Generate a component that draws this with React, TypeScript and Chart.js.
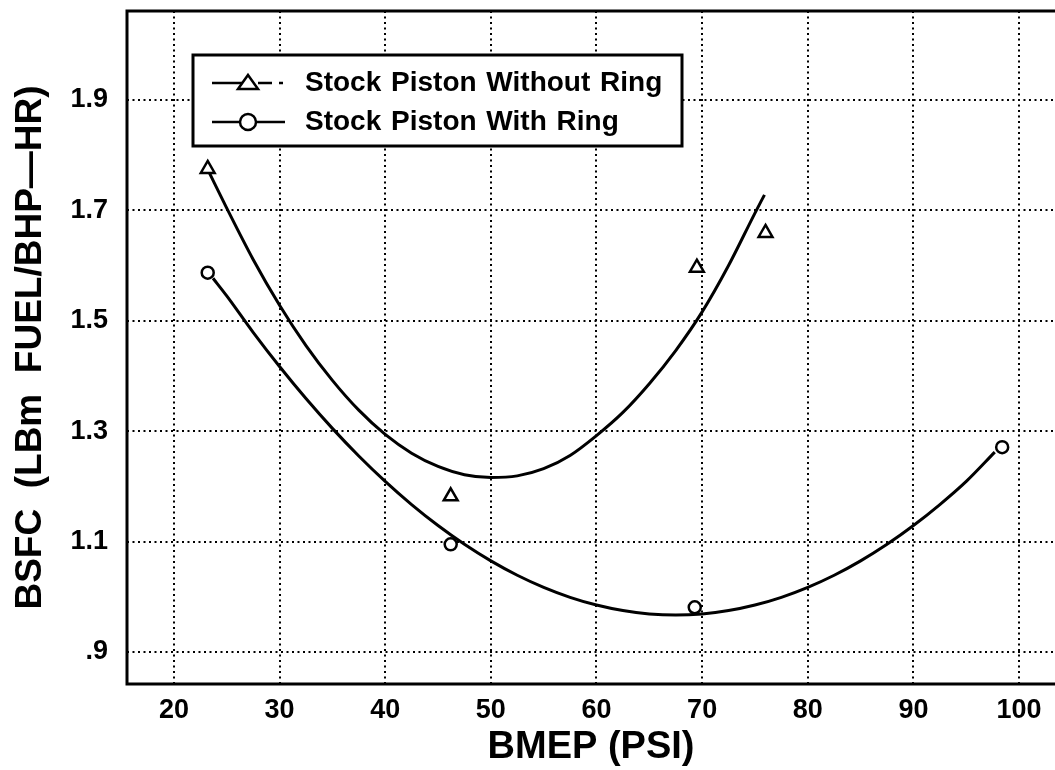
import { useEffect, useRef } from "react";
import { Chart, registerables } from "chart.js";

Chart.register(...registerables);

// Axis ticks
const xTicks = [20, 30, 40, 50, 60, 70, 80, 90, 100];
const yTicks = [0.9, 1.1, 1.3, 1.5, 1.7, 1.9];

// Series names
const seriesNames = ["Stock Piston Without Ring", "Stock Piston With Ring"];

// Measured points
const withoutRingBmep = [23.2, 46.2, 69.5, 76.0];
const withoutRingBsfc = [1.775, 1.182, 1.596, 1.659];
const withRingBmep = [23.2, 46.2, 69.3, 98.4];
const withRingBsfc = [1.587, 1.095, 0.981, 1.271];

// Fitted curves
const withoutRingFitBmep = [
  23.3, 25, 27.5, 30, 32.5, 35, 37.5, 40, 42.5, 45, 47.5, 50, 52.5, 55, 57.5, 60, 62.5, 65, 67.5, 70, 72.5, 75, 75.9,
];
const withoutRingFitBsfc = [
  1.77, 1.704, 1.611, 1.528, 1.455, 1.392, 1.338, 1.294, 1.26, 1.236, 1.221, 1.216, 1.219, 1.232, 1.256, 1.292,
  1.334, 1.386, 1.446, 1.516, 1.6, 1.695, 1.728,
];
const withRingFitBmep = [
  23.7, 25, 27.5, 30, 32.5, 35, 37.5, 40, 42.5, 45, 47.5, 50, 52.5, 55, 57.5, 60, 62.5, 65, 67.5, 70, 72.5, 75, 77.5,
  80, 82.5, 85, 87.5, 90, 92.5, 95, 97.7,
];
const withRingFitBsfc = [
  1.577, 1.545, 1.479, 1.417, 1.359, 1.305, 1.255, 1.209, 1.167, 1.129, 1.095, 1.065, 1.039, 1.017, 0.999, 0.985,
  0.975, 0.969, 0.967, 0.969, 0.975, 0.985, 0.999, 1.017, 1.039, 1.065, 1.095, 1.129, 1.167, 1.209, 1.262,
];

const FONT = '"Liberation Sans", Arial, Helvetica, sans-serif';

const toXY = (xs: number[], ys: number[]) => xs.map((x, i) => ({ x, y: ys[i] }));

export default function App() {
  const ref = useRef<HTMLCanvasElement>(null);

  useEffect(() => {
    const canvas = ref.current!;

    const framePlugin = {
      id: "frameAndLegend",
      afterDraw(chart: any) {
        const ctx = chart.ctx as CanvasRenderingContext2D;
        const ca = chart.chartArea;
        ctx.save();
        // frame (left, top, bottom)
        ctx.strokeStyle = "#000";
        ctx.lineWidth = 3;
        ctx.setLineDash([]);
        ctx.beginPath();
        ctx.moveTo(chart.width + 5, ca.top);
        ctx.lineTo(ca.left, ca.top);
        ctx.lineTo(ca.left, ca.bottom);
        ctx.lineTo(chart.width + 5, ca.bottom);
        ctx.stroke();

        // legend box
        const bx = ca.left + 66;
        const by = ca.top + 44;
        const bw = 489;
        const bh = 91;
        ctx.fillStyle = "#fff";
        ctx.fillRect(bx, by, bw, bh);
        ctx.lineWidth = 3;
        ctx.strokeRect(bx, by, bw, bh);

        const rows = [by + 28, by + 67];
        const lx0 = bx + 19;
        const lx1 = bx + 92;
        const mx = bx + 55;

        // row 1: triangle, solid then dash-dot
        ctx.lineWidth = 2.5;
        ctx.beginPath();
        ctx.moveTo(lx0, rows[0]);
        ctx.lineTo(mx, rows[0]);
        ctx.moveTo(mx + 10, rows[0]);
        ctx.lineTo(mx + 24, rows[0]);
        ctx.moveTo(mx + 31, rows[0]);
        ctx.lineTo(mx + 35, rows[0]);
        ctx.stroke();
        ctx.beginPath();
        ctx.moveTo(mx, rows[0] - 8);
        ctx.lineTo(mx + 10, rows[0] + 6);
        ctx.lineTo(mx - 10, rows[0] + 6);
        ctx.closePath();
        ctx.fillStyle = "#fff";
        ctx.fill();
        ctx.stroke();

        // row 2: circle
        ctx.beginPath();
        ctx.moveTo(lx0, rows[1]);
        ctx.lineTo(lx1, rows[1]);
        ctx.stroke();
        ctx.beginPath();
        ctx.arc(mx, rows[1], 8, 0, Math.PI * 2);
        ctx.fillStyle = "#fff";
        ctx.fill();
        ctx.stroke();

        ctx.fillStyle = "#000";
        ctx.font = `bold 28px ${FONT}`;
        (ctx as any).wordSpacing = "2px";
        ctx.textBaseline = "middle";
        ctx.textAlign = "left";
        ctx.fillText(seriesNames[0], bx + 112, rows[0]);
        ctx.fillText(seriesNames[1], bx + 112, rows[1]);
        ctx.restore();
      },
    };

    const chart = new Chart(canvas, {
      type: "scatter",
      data: {
        datasets: [
          {
            label: seriesNames[0],
            data: toXY(withoutRingBmep, withoutRingBsfc),
            pointStyle: "triangle",
            pointRadius: 8,
            borderWidth: 2.5,
            borderColor: "#000",
            backgroundColor: "#fff",
            showLine: false,
            order: 0,
          },
          {
            label: seriesNames[1],
            data: toXY(withRingBmep, withRingBsfc),
            pointStyle: "circle",
            pointRadius: 6,
            borderWidth: 2.5,
            borderColor: "#000",
            backgroundColor: "#fff",
            showLine: false,
            order: 0,
          },
          {
            label: seriesNames[0] + " fit",
            data: toXY(withoutRingFitBmep, withoutRingFitBsfc),
            showLine: true,
            pointRadius: 0,
            borderColor: "#000",
            borderWidth: 3,
            cubicInterpolationMode: "monotone",
            order: 1,
          },
          {
            label: seriesNames[1] + " fit",
            data: toXY(withRingFitBmep, withRingFitBsfc),
            showLine: true,
            pointRadius: 0,
            borderColor: "#000",
            borderWidth: 3,
            cubicInterpolationMode: "monotone",
            order: 1,
          },
        ],
      },
      options: {
        responsive: false,
        animation: false,
        devicePixelRatio: 1,
        layout: { autoPadding: false, padding: { top: 11, left: 0, right: 0, bottom: 0 } },
        plugins: {
          legend: { display: false },
          tooltip: { enabled: false },
        },
        scales: {
          x: {
            type: "linear",
            min: 15.56,
            max: 103.4,
            afterBuildTicks: (s: any) => {
              s.ticks = xTicks.map((v) => ({ value: v }));
            },
            afterFit: (s: any) => {
              s.height = 86;
              s.paddingLeft = 0;
              s.paddingRight = 0;
            },
            grid: { color: "#000", lineWidth: 2, drawTicks: false },
            border: { display: false, dash: [2, 3.5] },
            ticks: {
              color: "#000",
              font: { family: FONT, size: 27, weight: "bold" },
              padding: 10,
              maxRotation: 0,
              autoSkip: false,
              callback: (v: any) => String(v),
            },
            title: {
              display: true,
              text: "BMEP (PSI)",
              color: "#000",
              font: { family: FONT, size: 38, weight: "bold" },
              padding: { top: 0, bottom: 0 },
            },
          },
          y: {
            type: "linear",
            min: 0.842,
            max: 2.061,
            afterBuildTicks: (s: any) => {
              s.ticks = yTicks.map((v) => ({ value: v }));
            },
            afterFit: (s: any) => {
              s.width = 127;
              s.paddingTop = 0;
              s.paddingBottom = 0;
            },
            grid: { color: "#000", lineWidth: 2, drawTicks: false },
            border: { display: false, dash: [2, 3.5] },
            ticks: {
              color: "#000",
              font: { family: FONT, size: 27, weight: "bold" },
              padding: 19,
              callback: (v: any) => (Number(v) < 1 ? Number(v).toFixed(1).replace(/^0/, "") : Number(v).toFixed(1)),
            },
            title: {
              display: true,
              text: "BSFC  (LBm  FUEL/BHP—HR)",
              color: "#000",
              font: { family: FONT, size: 37, weight: "bold" },
              padding: { top: 9, bottom: 0 },
            },
          },
        },
      },
      plugins: [framePlugin],
    } as any);

    return () => chart.destroy();
  }, []);

  return (
    <div style={{ position: "fixed", left: 0, top: 0, width: 1055, height: 770, background: "#fff" }}>
      <canvas ref={ref} width={1055} height={770} style={{ display: "block" }} />
    </div>
  );
}
